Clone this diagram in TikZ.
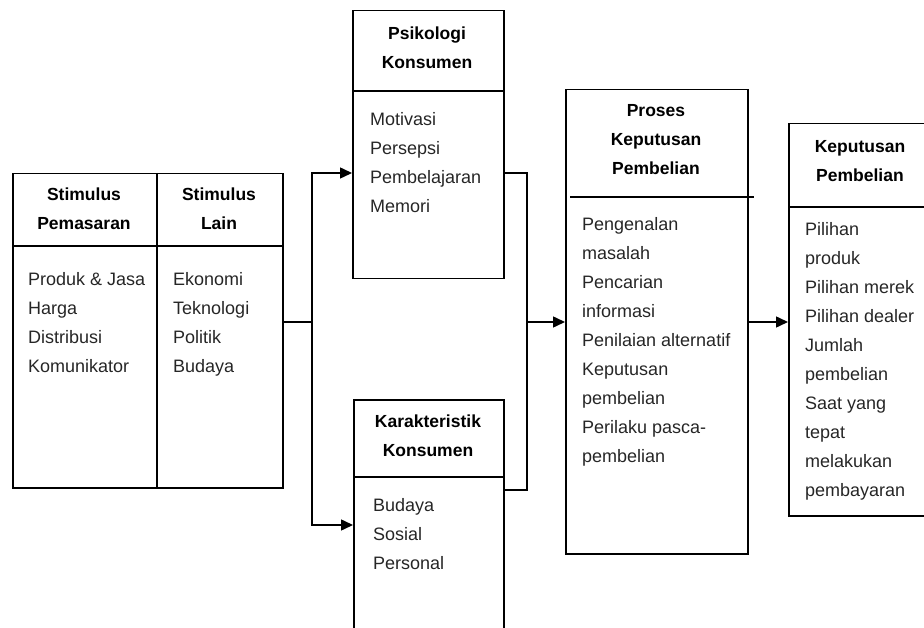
\documentclass[tikz,border=0pt]{standalone}
\usepackage{fontspec}
\setmainfont{Liberation Sans}
\usetikzlibrary{positioning, calc, arrows.meta}

\tikzset{
  kotak/.style = {draw, line width=1.5pt, anchor=north west, inner sep=0pt},
  judul/.style = {font=\fontsize{17.5}{29}\selectfont\bfseries, align=center},
  isi/.style = {font=\fontsize{18}{29}\selectfont, align=left, anchor=north west, inner sep=0pt, text=black!85},
  garis/.style = {line width=1.5pt},
  panah/.style = {line width=1.5pt, -{Triangle[length=12pt,width=11pt]}}
}

\begin{document}
\begin{tikzpicture}[x=1pt, y=-1pt]
  \useasboundingbox (0,0) rectangle (924,628);

  \node[kotak, minimum width=270pt, minimum height=314pt] (stim) at (12,173) {};
  \node[kotak, minimum width=151pt, minimum height=268pt] (psiko) at (352,10) {};
  \node[kotak, minimum width=150pt, minimum height=250pt] (karak) at (353,399) {};
  \node[kotak, minimum width=182pt, minimum height=464pt] (proses) at (565,89) {};
  \node[kotak, minimum width=160pt, minimum height=392pt] (kepu) at (788,123) {};

  \draw[garis] ($(stim.north west)+(0,73)$) -- ($(stim.north east)+(0,73)$);
  \draw[garis] ($(stim.north)+(9,0)$) -- ($(stim.south)+(9,0)$);
  \draw[garis] ($(psiko.north west)+(0,81)$) -- ($(psiko.north east)+(0,81)$);
  \draw[garis] ($(karak.north west)+(0,78)$) -- ($(karak.north east)+(0,78)$);
  \draw[garis] ($(proses.north west)+(5,108)$) -- ($(proses.north east)+(5,108)$);
  \draw[garis] ($(kepu.north west)+(0,84)$) -- ($(kepu.north east)+(0,84)$);

  \node[judul] (stimJudulA) at (84,209) {Stimulus\\Pemasaran};
  \node[judul] (stimJudulB) at (219,209) {Stimulus\\Lain};
  \node[judul] (psikoJudul) at (427,48) {Psikologi\\Konsumen};
  \node[judul] (karakJudul) at (428,436) {Karakteristik\\Konsumen};
  \node[judul] (prosesJudul) at (656,140) {Proses\\Keputusan\\Pembelian};
  \node[judul] (kepuJudul) at (860,161) {Keputusan\\Pembelian};

  \node[isi] (stimIsiA) at (28,272) {Produk \& Jasa\\Harga\\Distribusi\\Komunikator};
  \node[isi] (stimIsiB) at (173,272) {Ekonomi\\Teknologi\\Politik\\Budaya};
  \node[isi] (psikoIsi) at (370,112) {Motivasi\\Persepsi\\Pembelajaran\\Memori};
  \node[isi] (karakIsi) at (373,498) {Budaya\\Sosial\\Personal};
  \node[isi] (prosesIsi) at (582,217) {Pengenalan\\masalah\\Pencarian\\informasi\\Penilaian alternatif\\Keputusan\\pembelian\\Perilaku pasca-\\pembelian};
  \node[isi] (kepuIsi) at (805,222) {Pilihan\\produk\\Pilihan merek\\Pilihan dealer\\Jumlah\\pembelian\\Saat yang\\tepat\\melakukan\\pembayaran};

  \coordinate (cabang) at (312,322);
  \coordinate (gabung) at (527,322);
  \coordinate (psikoMasuk) at ($(psiko.north west)+(0,163)$);
  \coordinate (psikoKeluar) at ($(psiko.north east)+(0,163)$);
  \coordinate (karakMasuk) at ($(karak.north west)+(0,126)$);
  \coordinate (karakKeluar) at ($(karak.north east)+(0,91)$);

  \draw[garis] (stim.east |- cabang) -- (cabang);
  \draw[panah] (cabang) |- (psikoMasuk);
  \draw[panah] (cabang) |- (karakMasuk);
  \draw[garis] (psikoKeluar) -| (gabung) |- (karakKeluar);
  \draw[panah] (gabung) -- (proses.west |- gabung);
  \draw[panah] (proses.east |- gabung) -- (kepu.west |- gabung);
\end{tikzpicture}
\end{document}
